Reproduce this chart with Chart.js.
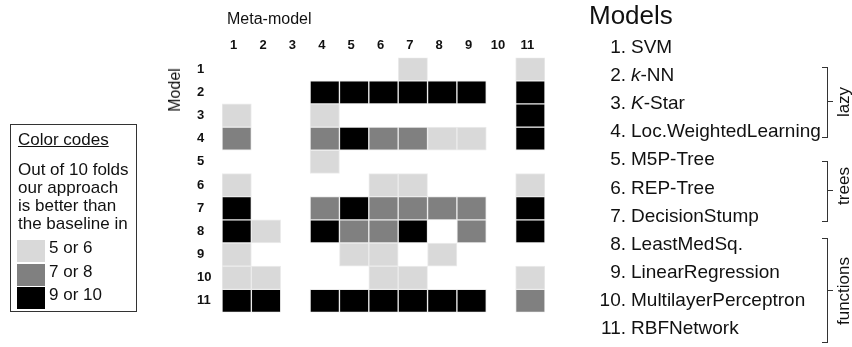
<!DOCTYPE html>
<html>
<head>
<meta charset="utf-8">
<script src="https://cdn.jsdelivr.net/npm/chart.js@4.4.1/dist/chart.umd.min.js"></script>
<style>
    body { margin: 0; background: #fff; }
    #wrap { position: relative; width: 852px; height: 347px; overflow: hidden;
            font-family: "Liberation Sans", Arial, sans-serif; color: #111; }
    #grade { position: absolute; left: 0; top: 0; }
    .abs { position: absolute; white-space: nowrap; }
    .rot { transform: translate(-50%, -50%) rotate(-90deg); }
    #legenda { position: absolute; left: 10px; top: 124px; width: 127px; height: 188px;
               border: 1px solid #333; box-sizing: border-box; font-size: 17px; }
    #legenda .sw { position: absolute; left: 6px; width: 28px; height: 22px; }
    #legenda .lb { position: absolute; left: 38px; line-height: 22px; }
    #modelos .item { position: absolute; left: 596px; font-size: 19px; line-height: 22px; }
    #modelos .num { display: inline-block; width: 30px; text-align: right; }
    #modelos .nome { margin-left: 5px; }
    .chave { position: absolute; width: 5px; border: 1.5px solid #333; border-left: none; }
    .dente { position: absolute; width: 5px; height: 0; border-top: 1.5px solid #333; }
</style>
</head>
<body>
<div id="wrap">
    <canvas id="grade" width="852" height="347"></canvas>

    <div class="abs" style="left:227px; top:10px; font-size:16px; line-height:18px;">Meta-model</div>
    <div class="abs rot" style="left:175px; top:90px; font-size:16px;">Model</div>

    <div id="legenda">
        <div class="abs" style="left:7px; top:5px; text-decoration:underline;">Color codes</div>
        <div class="abs" style="left:7px; top:36px; line-height:18px;">Out of 10 folds<br>our approach<br>is better than<br>the baseline in</div>
    </div>

    <div id="modelos">
        <div class="abs" style="left:589px; top:0px; font-size:26px; line-height:30px;">Models</div>
    </div>

    <div class="chave" style="left:822px; top:67px; height:69px;"></div>
    <div class="dente" style="left:828px; top:101px;"></div>
    <div class="abs rot" style="left:844px; top:102px; font-size:17px;">lazy</div>

    <div class="chave" style="left:822px; top:161px; height:59px;"></div>
    <div class="dente" style="left:828px; top:190px;"></div>
    <div class="abs rot" style="left:844px; top:186px; font-size:17px;">trees</div>

    <div class="chave" style="left:822px; top:238px; height:103px;"></div>
    <div class="dente" style="left:828px; top:290px;"></div>
    <div class="abs rot" style="left:844px; top:291px; font-size:17px;">functions</div>
</div>

<script>
// Eixos
const metaModelos = ['1', '2', '3', '4', '5', '6', '7', '8', '9', '10', '11'];
const modelos = [1, 2, 3, 4, 5, 6, 7, 8, 9, 10, 11];

// Nível por célula: 0 = vazio, 1 = 5 ou 6, 2 = 7 ou 8, 3 = 9 ou 10
const modelo1  = [0, 0, 0, 0, 0, 0, 1, 0, 0, 0, 1];
const modelo2  = [0, 0, 0, 3, 3, 3, 3, 3, 3, 0, 3];
const modelo3  = [1, 0, 0, 1, 0, 0, 0, 0, 0, 0, 3];
const modelo4  = [2, 0, 0, 2, 3, 2, 2, 1, 1, 0, 3];
const modelo5  = [0, 0, 0, 1, 0, 0, 0, 0, 0, 0, 0];
const modelo6  = [1, 0, 0, 0, 0, 1, 1, 0, 0, 0, 1];
const modelo7  = [3, 0, 0, 2, 3, 2, 2, 2, 2, 0, 3];
const modelo8  = [3, 1, 0, 3, 2, 2, 3, 0, 2, 0, 3];
const modelo9  = [1, 0, 0, 0, 1, 1, 0, 1, 0, 0, 0];
const modelo10 = [1, 1, 0, 0, 0, 1, 1, 0, 0, 0, 1];
const modelo11 = [3, 3, 0, 3, 3, 3, 3, 3, 3, 0, 2];
const niveis = [modelo1, modelo2, modelo3, modelo4, modelo5, modelo6,
                modelo7, modelo8, modelo9, modelo10, modelo11];

// Legenda
const coresNivel = ['rgba(0,0,0,0)', '#d9d9d9', '#808080', '#000000'];
const rotulosNivel = ['5 or 6', '7 or 8', '9 or 10'];

// Lista de modelos
const nomesModelos = ['SVM', '<i>k</i>-NN', '<i>K</i>-Star', 'Loc.WeightedLearning',
    'M5P-Tree', 'REP-Tree', 'DecisionStump', 'LeastMedSq.', 'LinearRegression',
    'MultilayerPerceptron', 'RBFNetwork'];

function montarLegenda() {
    const box = document.getElementById('legenda');
    rotulosNivel.forEach((txt, i) => {
        const topo = 115 + i * 23.5;
        box.insertAdjacentHTML('beforeend',
            `<div class="sw" style="top:${topo}px; background:${coresNivel[i + 1]};"></div>` +
            `<div class="lb" style="top:${topo - 3}px;">${txt}</div>`);
    });
}

function montarModelos() {
    const lista = document.getElementById('modelos');
    nomesModelos.forEach((nome, i) => {
        const topo = 36 + i * 28.1;
        lista.insertAdjacentHTML('beforeend',
            `<div class="item" style="top:${topo}px;"><span class="num">${i + 1}.</span><span class="nome">${nome}</span></div>`);
    });
}

function iniciarGrade() {
    const datasets = niveis.map((linha, r) => ({
        label: 'Model ' + modelos[r],
        data: linha.map(v => v > 0 ? [modelos[r] - 0.5, modelos[r] + 0.5] : null),
        backgroundColor: linha.map(v => coresNivel[v]),
        borderColor: '#ececec',
        borderWidth: 1,
        borderSkipped: false,
        barPercentage: 1,
        categoryPercentage: 1,
        grouped: false
    }));

    const fonteTick = { family: '"Liberation Sans", Arial', size: 13, weight: 'bold' };

    new Chart(document.getElementById('grade').getContext('2d'), {
        type: 'bar',
        data: { labels: metaModelos, datasets: datasets },
        options: {
            responsive: false,
            animation: false,
            layout: { padding: { left: 197, right: 307, top: 0, bottom: 34.5 } },
            plugins: { legend: { display: false }, tooltip: { enabled: false } },
            scales: {
                x: {
                    position: 'top',
                    grid: { display: false, drawTicks: false },
                    border: { display: false },
                    ticks: {
                        color: '#111',
                        font: fonteTick,
                        padding: 4,
                        labelOffset: -3,
                        maxRotation: 0
                    },
                    afterFit: s => { s.height = 57.6; }
                },
                y: {
                    min: 0.5,
                    max: 11.5,
                    reverse: true,
                    grid: { display: false, drawTicks: false },
                    border: { display: false },
                    afterBuildTicks: s => { s.ticks = modelos.map(v => ({ value: v })); },
                    ticks: {
                        color: '#111',
                        crossAlign: 'far',
                        font: fonteTick
                    },
                    afterFit: s => { s.width = 25; }
                }
            }
        }
    });
}

document.addEventListener('DOMContentLoaded', () => {
    montarLegenda();
    montarModelos();
    iniciarGrade();
});
</script>
</body>
</html>
